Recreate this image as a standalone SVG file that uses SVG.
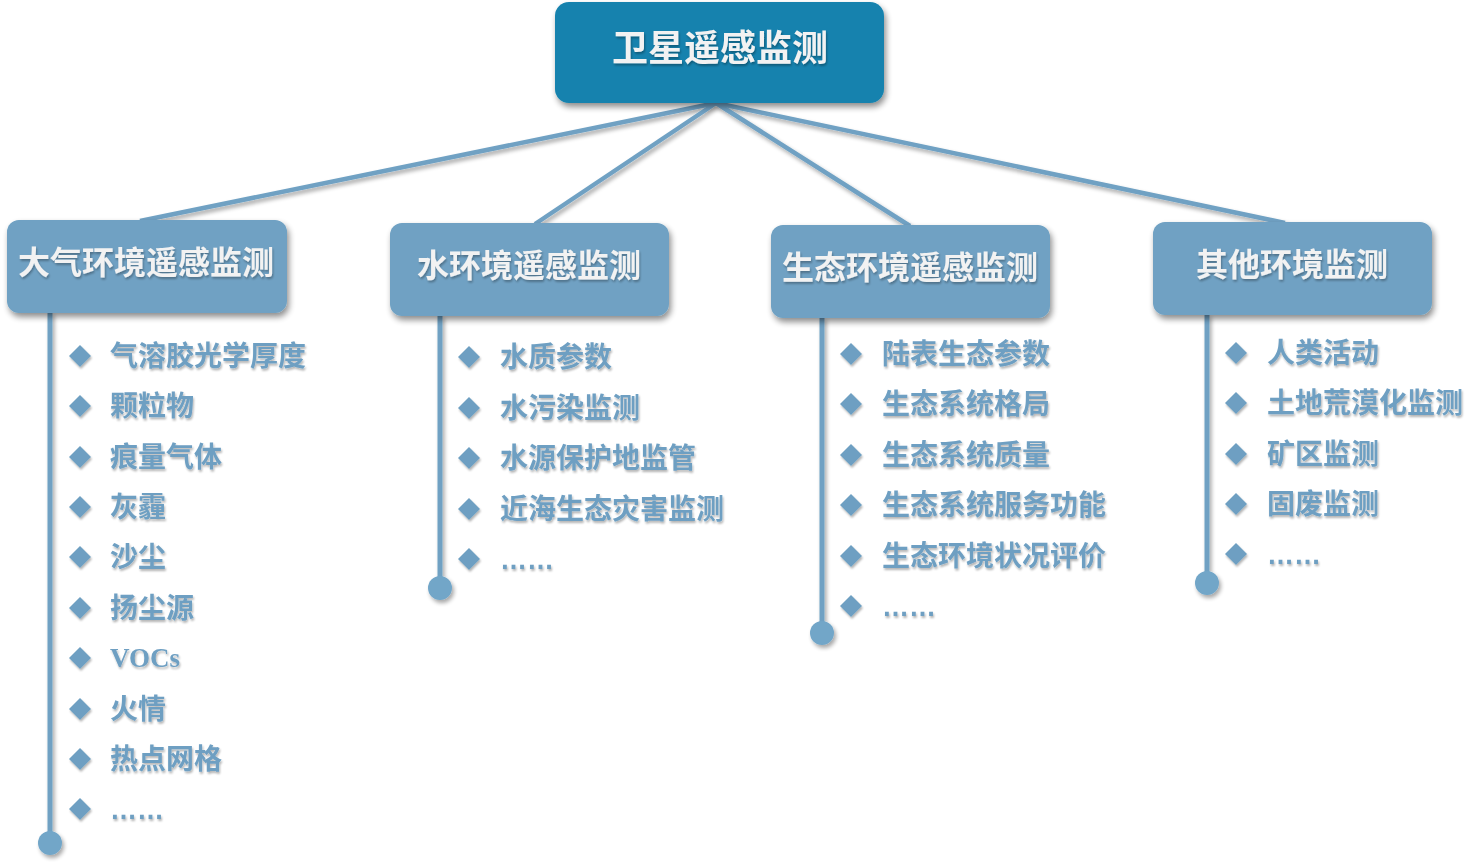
<svg xmlns="http://www.w3.org/2000/svg" width="1480" height="864" viewBox="0 0 1480 864">
<defs>
<filter id="sh" x="-10%" y="-20%" width="130%" height="150%">
<feGaussianBlur in="SourceAlpha" stdDeviation="3"/>
<feOffset dx="2" dy="4" result="b"/>
<feComponentTransfer><feFuncA type="linear" slope="0.45"/></feComponentTransfer>
<feMerge><feMergeNode/><feMergeNode in="SourceGraphic"/></feMerge>
</filter>
<filter id="lsh" x="-10%" y="-10%" width="130%" height="130%">
<feGaussianBlur in="SourceAlpha" stdDeviation="2"/>
<feOffset dx="2" dy="3" result="b"/>
<feComponentTransfer><feFuncA type="linear" slope="0.35"/></feComponentTransfer>
<feMerge><feMergeNode/><feMergeNode in="SourceGraphic"/></feMerge>
</filter>
<filter id="tsh" x="-5%" y="-20%" width="110%" height="150%">
<feGaussianBlur in="SourceAlpha" stdDeviation="1"/>
<feOffset dx="1" dy="1.5" result="b"/>
<feComponentTransfer><feFuncA type="linear" slope="0.3"/></feComponentTransfer>
<feMerge><feMergeNode/><feMergeNode in="SourceGraphic"/></feMerge>
</filter>
<path id="dia" d="M0,-11 L11,0 L0,11 L-11,0 Z"/>
</defs>
<style>
.root{fill:#1482ae;}
.box{fill:#6fa1c3;}
.ht{font-family:"Noto Sans CJK SC","Noto Sans",sans-serif;font-weight:700;fill:#f2f2f2;text-anchor:middle;}
.it{font-family:"Noto Sans CJK SC","Noto Sans",sans-serif;font-weight:700;fill:#6e9fc2;font-size:28px;}
.ser{font-family:"Liberation Serif",serif;font-weight:700;fill:#6e9fc2;font-size:27px;}
.el{font-family:"Liberation Sans",sans-serif;font-weight:700;fill:#6e9fc2;font-size:27px;}
.dia{fill:#6e9fc2;}
.vl{stroke:#6fa1c3;stroke-width:5;fill:none;}
.cl{stroke:#6fa1c3;stroke-width:4.5;fill:none;}
.dot{fill:#72a6c8;}
</style>
<g id="connectors" filter="url(#lsh)">
<line class="cl" x1="716" y1="103" x2="140" y2="221"/>
<line class="cl" x1="716" y1="103" x2="535" y2="224"/>
<line class="cl" x1="716" y1="103" x2="910" y2="226"/>
<line class="cl" x1="716" y1="103" x2="1285" y2="223"/>
<line class="vl" x1="50" y1="312" x2="50" y2="842"/>
<line class="vl" x1="440" y1="315" x2="440" y2="588"/>
<line class="vl" x1="822" y1="317" x2="822" y2="633"/>
<line class="vl" x1="1207" y1="314" x2="1207" y2="583"/>
<circle class="dot" cx="50" cy="843" r="12"/>
<circle class="dot" cx="440" cy="588" r="12"/>
<circle class="dot" cx="822" cy="633" r="12"/>
<circle class="dot" cx="1207" cy="583" r="12"/>
</g>
<g id="root">
<rect class="root" x="555" y="2" width="329" height="101" rx="14" filter="url(#sh)"/>
<text class="ht" x="720" y="61" font-size="36" filter="url(#tsh)">卫星遥感监测</text>
</g>
<g id="g-atmos">
<rect class="box" x="7" y="220" width="280" height="93" rx="12" filter="url(#sh)"/>
<text class="ht" x="146" y="274" font-size="32" filter="url(#tsh)">大气环境遥感监测</text>
</g>
<g id="g-water">
<rect class="box" x="390" y="223" width="279" height="93" rx="12" filter="url(#sh)"/>
<text class="ht" x="529" y="277" font-size="32" filter="url(#tsh)">水环境遥感监测</text>
</g>
<g id="g-eco">
<rect class="box" x="771" y="225" width="279" height="93" rx="12" filter="url(#sh)"/>
<text class="ht" x="910" y="279" font-size="32" filter="url(#tsh)">生态环境遥感监测</text>
</g>
<g id="g-other">
<rect class="box" x="1153" y="222" width="279" height="93" rx="12" filter="url(#sh)"/>
<text class="ht" x="1292" y="276" font-size="32" filter="url(#tsh)">其他环境监测</text>
</g>
<g id="items-atmos" filter="url(#tsh)">
<use href="#dia" class="dia" x="80" y="356"/><text class="it" x="110" y="366">气溶胶光学厚度</text>
<use href="#dia" class="dia" x="80" y="406"/><text class="it" x="110" y="416">颗粒物</text>
<use href="#dia" class="dia" x="80" y="457"/><text class="it" x="110" y="467">痕量气体</text>
<use href="#dia" class="dia" x="80" y="507"/><text class="it" x="110" y="517">灰霾</text>
<use href="#dia" class="dia" x="80" y="557"/><text class="it" x="110" y="567">沙尘</text>
<use href="#dia" class="dia" x="80" y="608"/><text class="it" x="110" y="618">扬尘源</text>
<use href="#dia" class="dia" x="80" y="658"/><text class="ser" x="110" y="667">VOCs</text>
<use href="#dia" class="dia" x="80" y="709"/><text class="it" x="110" y="719">火情</text>
<use href="#dia" class="dia" x="80" y="759"/><text class="it" x="110" y="769">热点网格</text>
<use href="#dia" class="dia" x="80" y="809"/><text class="el" x="110" y="819">……</text>
</g>
<g id="items-water" filter="url(#tsh)">
<use href="#dia" class="dia" x="469" y="357"/><text class="it" x="500" y="367">水质参数</text>
<use href="#dia" class="dia" x="469" y="408"/><text class="it" x="500" y="418">水污染监测</text>
<use href="#dia" class="dia" x="469" y="458"/><text class="it" x="500" y="468">水源保护地监管</text>
<use href="#dia" class="dia" x="469" y="509"/><text class="it" x="500" y="519">近海生态灾害监测</text>
<use href="#dia" class="dia" x="469" y="559"/><text class="el" x="500" y="569">……</text>
</g>
<g id="items-eco" filter="url(#tsh)">
<use href="#dia" class="dia" x="851" y="354"/><text class="it" x="882" y="364">陆表生态参数</text>
<use href="#dia" class="dia" x="851" y="404"/><text class="it" x="882" y="414">生态系统格局</text>
<use href="#dia" class="dia" x="851" y="455"/><text class="it" x="882" y="465">生态系统质量</text>
<use href="#dia" class="dia" x="851" y="505"/><text class="it" x="882" y="515">生态系统服务功能</text>
<use href="#dia" class="dia" x="851" y="556"/><text class="it" x="882" y="566">生态环境状况评价</text>
<use href="#dia" class="dia" x="851" y="606"/><text class="el" x="882" y="616">……</text>
</g>
<g id="items-other" filter="url(#tsh)">
<use href="#dia" class="dia" x="1236" y="353"/><text class="it" x="1267" y="363">人类活动</text>
<use href="#dia" class="dia" x="1236" y="403"/><text class="it" x="1267" y="413">土地荒漠化监测</text>
<use href="#dia" class="dia" x="1236" y="454"/><text class="it" x="1267" y="464">矿区监测</text>
<use href="#dia" class="dia" x="1236" y="504"/><text class="it" x="1267" y="514">固废监测</text>
<use href="#dia" class="dia" x="1236" y="554"/><text class="el" x="1267" y="564">……</text>
</g>
</svg>
